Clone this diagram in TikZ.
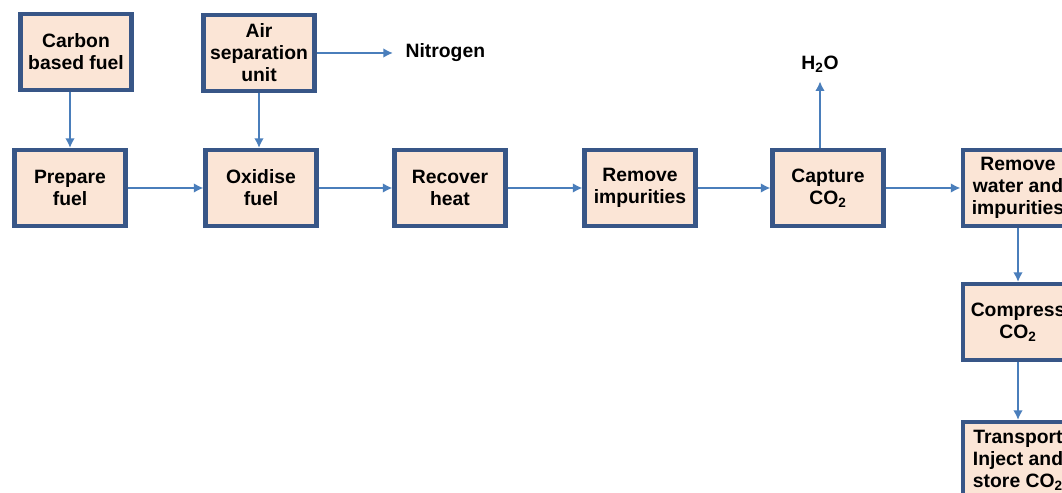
\documentclass[tikz,border=0pt]{standalone}
\usepackage{fontspec}
\setmainfont{Liberation Sans}
\usetikzlibrary{arrows.meta}
\definecolor{boxfill}{RGB}{251,229,214}
\definecolor{boxline}{RGB}{56,86,135}
\definecolor{flowline}{RGB}{74,126,187}

\begin{document}
\begin{tikzpicture}[x=0.02cm,y=-0.02cm,
	stage/.style={draw=boxline,fill=boxfill,line width=2.3pt,minimum width=2.22cm,minimum height=1.52cm,align=center,inner sep=1pt,font=\fontsize{11}{12.5}\selectfont\bfseries},
	flow/.style={draw=flowline,line width=1.5pt,-{Latex[length=5.5pt,width=5.5pt]}},
	outname/.style={font=\fontsize{11}{12.5}\selectfont\bfseries}]
	\useasboundingbox (0,0) rectangle (1062,493);
	\clip (0,0) rectangle (1062,493);
	% feeds
	\node[stage] (fuel) at (76,52) {Carbon\\based fuel};
	\node[stage] (asu) at (259,53) {Air\\separation\\unit};
	\node[outname,anchor=west,inner xsep=7pt] (nitro) at (393,53) {Nitrogen};
	% main line
	\node[stage] (prep) at (70,188) {Prepare\\fuel};
	\node[stage] (oxid) at (261,188) {Oxidise\\fuel};
	\node[stage] (heat) at (450,188) {Recover\\heat};
	\node[stage] (rimp) at (640,188) {Remove\\impurities};
	\node[stage] (capt) at (828,188) {Capture\\CO\textsubscript{2}};
	\node[outname,inner sep=5pt] (water) at (820,64) {H\textsubscript{2}O};
	\node[stage] (rwat) at (1018,188) {Remove\\water and\\impurities};
	% down the right side
	\node[stage] (comp) at (1018,322) {Compress\\CO\textsubscript{2}};
	\node[stage] (trans) at (1018,460) {Transport\\Inject and\\store CO\textsubscript{2}};
	% connectors
	\draw[flow] (fuel.south -| prep.north) -- (prep.north);
	\draw[flow] (asu.south) -- (asu.south |- oxid.north);
	\draw[flow] (asu.east) -- (asu.east -| nitro.west);
	\draw[flow] (prep) -- (oxid);
	\draw[flow] (oxid) -- (heat);
	\draw[flow] (heat) -- (rimp);
	\draw[flow] (rimp) -- (capt);
	\draw[flow] (capt.north -| water) -- (water.south);
	\draw[flow] (capt) -- (rwat);
	\draw[flow] (rwat) -- (comp);
	\draw[flow] (comp) -- (trans);
\end{tikzpicture}
\end{document}
